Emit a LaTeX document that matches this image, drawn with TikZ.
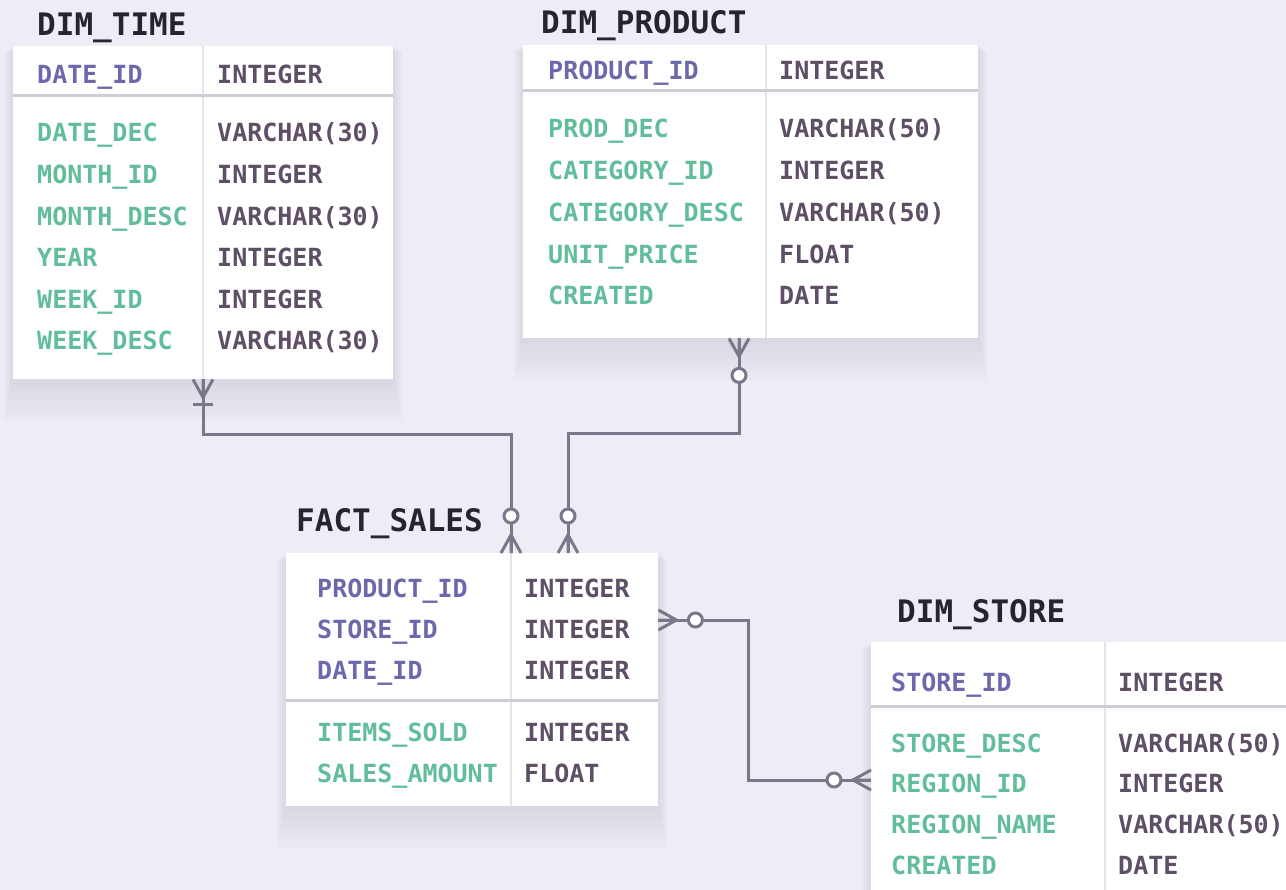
\documentclass[tikz,border=0pt]{standalone}
\usepackage{fontspec}
\setmonofont{DejaVu Sans Mono}
\usetikzlibrary{positioning}
\usetikzlibrary{calc}
\pgfdeclarelayer{back}
\pgfsetlayers{back,main}
\definecolor{bgcol}{HTML}{EDEDF5}
\definecolor{titlec}{HTML}{25252F}
\definecolor{keyc}{HTML}{6C68AC}
\definecolor{attrc}{HTML}{62BE9A}
\definecolor{typec}{HTML}{5E4E66}
\definecolor{linec}{HTML}{78788A}
\definecolor{sepc}{HTML}{CDCDD5}
\definecolor{divc}{HTML}{E4E4EC}
\definecolor{shadowc}{HTML}{9090A8}
\tikzset{x=1pt, y=-1pt, % one unit is one pixel of the reference
      every node/.style={inner sep=0pt,
      font=\ttfamily\bfseries\fontsize{25}{30}\selectfont},
      tablebox/.style={fill=white, anchor=north west}, % white body of a table
      tshadow/.style={fill=shadowc, opacity=0.035},
      tabletitle/.style={anchor=south west, text=titlec, text depth=0pt,
      font=\ttfamily\bfseries\fontsize{31}{36}\selectfont},
      keycol/.style={anchor=west, text=keyc, text height=18pt, text depth=0pt},
      attrcol/.style={anchor=west, text=attrc, text height=18pt, text depth=0pt},
      typecol/.style={anchor=west, text=typec, text height=18pt, text depth=0pt},
      divider/.style={draw=divc, line width=2pt},
      separator/.style={draw=sepc, line width=3pt},
      rel/.style={draw=linec, line width=3pt}, % relationship lines
      pics/zeromany/.style={code={ % crow's foot and ring
      \draw[rel] (0,-10) -- (18,0) -- (0,10) (0,0) -- (18,0);
      \draw[rel, fill=white] (37,0) circle[radius=7];}},
      pics/onemany/.style={code={ % crow's foot and bar
      \draw[rel] (0,-10) -- (18,0) -- (0,10) (0,0) -- (18,0);
      \draw[rel] (25,-10) -- (25,10);}}}
\begin{document}
\begin{tikzpicture}
      \useasboundingbox (0,0) rectangle (1286,890);
      \clip (0,0) rectangle (1286,890);
      % DIM_TIME
      \node[tablebox, minimum width=380pt, minimum height=333pt] (time) at (13,46) {};
      \node[tabletitle, above right=10pt and 24pt of time.north west] (time-title) {DIM\_TIME};
      \coordinate (time-div) at ($(time.north west)+(190,0)$);
      \draw[divider] (time-div) -- (time-div |- time.south);
      \draw[separator] ($(time.north west)+(0,50)$) -- ($(time.north east)+(0,50)$);
      \node[keycol] (time-k1) at ($(time.north west)+(24,29)$) {DATE\_ID};
      \node[typecol] (time-kt1) at ($(time.north west)+(204,29)$) {INTEGER};
      \foreach \n/\t [count=\i] in {DATE\_DEC/VARCHAR(30), MONTH\_ID/INTEGER,
            MONTH\_DESC/VARCHAR(30), YEAR/INTEGER, WEEK\_ID/INTEGER, WEEK\_DESC/VARCHAR(30)} {
            \node[attrcol] (time-a\i) at ($(time.north west)+(24,{87+41.6*(\i-1)})$) {\n};
            \node[typecol] (time-t\i) at ($(time.north west)+(204,{87+41.6*(\i-1)})$) {\t};
      }
      % DIM_PRODUCT
      \node[tablebox, minimum width=455pt, minimum height=293pt] (prod) at (523,45) {};
      \node[tabletitle, above right=11pt and 18pt of prod.north west] (prod-title) {DIM\_PRODUCT};
      \coordinate (prod-div) at ($(prod.north west)+(243,0)$);
      \draw[divider] (prod-div) -- (prod-div |- prod.south);
      \draw[separator] ($(prod.north west)+(0,46)$) -- ($(prod.north east)+(0,46)$);
      \node[keycol] (prod-k1) at ($(prod.north west)+(25,26)$) {PRODUCT\_ID};
      \node[typecol] (prod-kt1) at ($(prod.north west)+(256,26)$) {INTEGER};
      \foreach \n/\t [count=\i] in {PROD\_DEC/VARCHAR(50), CATEGORY\_ID/INTEGER,
            CATEGORY\_DESC/VARCHAR(50), UNIT\_PRICE/FLOAT, CREATED/DATE} {
            \node[attrcol] (prod-a\i) at ($(prod.north west)+(25,{84+41.75*(\i-1)})$) {\n};
            \node[typecol] (prod-t\i) at ($(prod.north west)+(256,{84+41.75*(\i-1)})$) {\t};
      }
      % FACT_SALES
      \node[tablebox, minimum width=372pt, minimum height=253pt] (fact) at (286,553) {};
      \node[tabletitle, above right=21pt and 10pt of fact.north west] (fact-title) {FACT\_SALES};
      \coordinate (fact-div) at ($(fact.north west)+(225,0)$);
      \draw[divider] (fact-div) -- (fact-div |- fact.south);
      \draw[separator] ($(fact.north west)+(0,147)$) -- ($(fact.north east)+(0,147)$);
      \foreach \n [count=\i] in {PRODUCT\_ID, STORE\_ID, DATE\_ID} {
            \node[keycol] (fact-k\i) at ($(fact.north west)+(31,{35+41*(\i-1)})$) {\n};
            \node[typecol] (fact-kt\i) at ($(fact.north west)+(238,{35+41*(\i-1)})$) {INTEGER};
      }
      \foreach \n/\t [count=\i] in {ITEMS\_SOLD/INTEGER, SALES\_AMOUNT/FLOAT} {
            \node[attrcol] (fact-a\i) at ($(fact.north west)+(31,{179+41*(\i-1)})$) {\n};
            \node[typecol] (fact-t\i) at ($(fact.north west)+(238,{179+41*(\i-1)})$) {\t};
      }
      % DIM_STORE
      \node[tablebox, minimum width=500pt, minimum height=300pt] (store) at (871,642) {};
      \node[tabletitle, above right=19pt and 26pt of store.north west] (store-title) {DIM\_STORE};
      \coordinate (store-div) at ($(store.north west)+(234,0)$);
      \draw[divider] (store-div) -- (store-div |- store.south);
      \draw[separator] ($(store.north west)+(0,64)$) -- ($(store.north east)+(0,64)$);
      \node[keycol] (store-k1) at ($(store.north west)+(20,40)$) {STORE\_ID};
      \node[typecol] (store-kt1) at ($(store.north west)+(247,40)$) {INTEGER};
      \foreach \n/\t [count=\i] in {STORE\_DESC/VARCHAR(50), REGION\_ID/INTEGER,
            REGION\_NAME/VARCHAR(50), CREATED/DATE} {
            \node[attrcol] (store-a\i) at ($(store.north west)+(20,{101+40.8*(\i-1)})$) {\n};
            \node[typecol] (store-t\i) at ($(store.north west)+(247,{101+40.8*(\i-1)})$) {\t};
      }
      % background and soft shadows
      \begin{pgfonlayer}{back}
            \fill[bgcol] (0,0) rectangle (1286,890);
            \foreach \tab in {time, prod, fact, store}
                  \foreach \s in {1,...,6}
                        \fill[tshadow] ($(\tab.north west)+(-1.5*\s,\s)$) rectangle ($(\tab.south east)+(1.5*\s,7*\s)$);
      \end{pgfonlayer}
      % relationships
      \coordinate (prod-link) at ($(prod.south west)+(216,0)$);
      \coordinate (fact-link) at ($(fact.north west)+(282,0)$);
      \coordinate (fact-store) at ($(fact.north east)+(0,67)$);
      \coordinate (store-fact) at ($(store.north west)+(0,138)$);
      \draw[rel] (time.south -| time-div) -- ++(0,55) -| (fact.north -| fact-div);
      \draw[rel] (prod-link) -- ++(0,95) -| (fact-link);
      \draw[rel] (fact-store) -- ++(90,0) |- (store-fact);
      \pic[rotate=-90] at (time.south -| time-div) {onemany};
      \pic[rotate=90] at (fact.north -| fact-div) {zeromany};
      \pic[rotate=-90] at (prod-link) {zeromany};
      \pic[rotate=90] at (fact-link) {zeromany};
      \pic at (fact-store) {zeromany};
      \pic[rotate=180] at (store-fact) {zeromany};
\end{tikzpicture}
\end{document}
